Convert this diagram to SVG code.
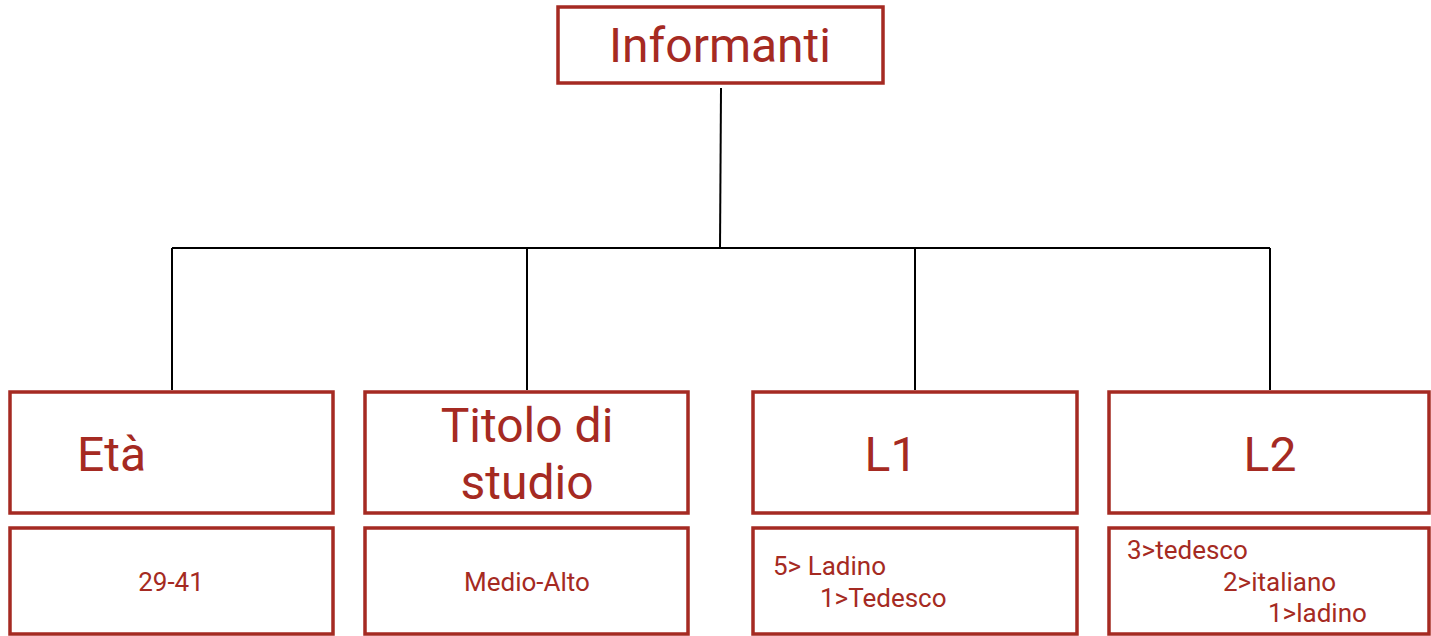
<svg xmlns="http://www.w3.org/2000/svg" width="1431" height="636" viewBox="0 0 1431 636">
<style>
.box{fill:#fff;stroke:#a52a22;stroke-width:3.5}
.big{font-family:Roboto,"Liberation Sans",sans-serif;font-size:48px;fill:#a52a22}
.small{font-family:Roboto,"Liberation Sans",sans-serif;font-size:26px;fill:#a52a22}
.conn{stroke:#000;stroke-width:2;fill:none}
</style>
<rect width="1431" height="636" fill="#fff"/>
<g id="connectors">
<path class="conn" d="M721 88 L720 248"/>
<path class="conn" d="M172 248 H1270"/>
<path class="conn" d="M172 248 V390"/>
<path class="conn" d="M527 248 V390"/>
<path class="conn" d="M915 248 V390"/>
<path class="conn" d="M1270 248 V390"/>
</g>
<g id="informanti">
<rect class="box" x="558" y="7" width="325" height="76"/>
<text class="big" x="720" y="62" text-anchor="middle">Informanti</text>
</g>
<g id="eta">
<rect class="box" x="10" y="392" width="323" height="121"/>
<text class="big" x="77" y="471">Età</text>
</g>
<g id="eta-val">
<rect class="box" x="10" y="528" width="323" height="106"/>
<text class="small" x="171" y="591" text-anchor="middle">29-41</text>
</g>
<g id="titolo">
<rect class="box" x="365" y="392" width="323" height="121"/>
<text class="big" x="527" y="442" text-anchor="middle">Titolo di</text>
<text class="big" x="527" y="499" text-anchor="middle">studio</text>
</g>
<g id="titolo-val">
<rect class="box" x="365" y="528" width="323" height="106"/>
<text class="small" x="527" y="591" text-anchor="middle">Medio-Alto</text>
</g>
<g id="l1">
<rect class="box" x="753" y="392" width="324" height="121"/>
<text class="big" x="891" y="471" text-anchor="middle">L1</text>
</g>
<g id="l1-val">
<rect class="box" x="753" y="528" width="324" height="106"/>
<text class="small" x="773" y="575">5&gt; Ladino</text>
<text class="small" x="820" y="607">1&gt;Tedesco</text>
</g>
<g id="l2">
<rect class="box" x="1109" y="392" width="320" height="121"/>
<text class="big" x="1270" y="471" text-anchor="middle">L2</text>
</g>
<g id="l2-val">
<rect class="box" x="1109" y="528" width="320" height="106"/>
<text class="small" x="1127" y="559">3&gt;tedesco</text>
<text class="small" x="1223" y="591">2&gt;italiano</text>
<text class="small" x="1268" y="622">1&gt;ladino</text>
</g>
</svg>
